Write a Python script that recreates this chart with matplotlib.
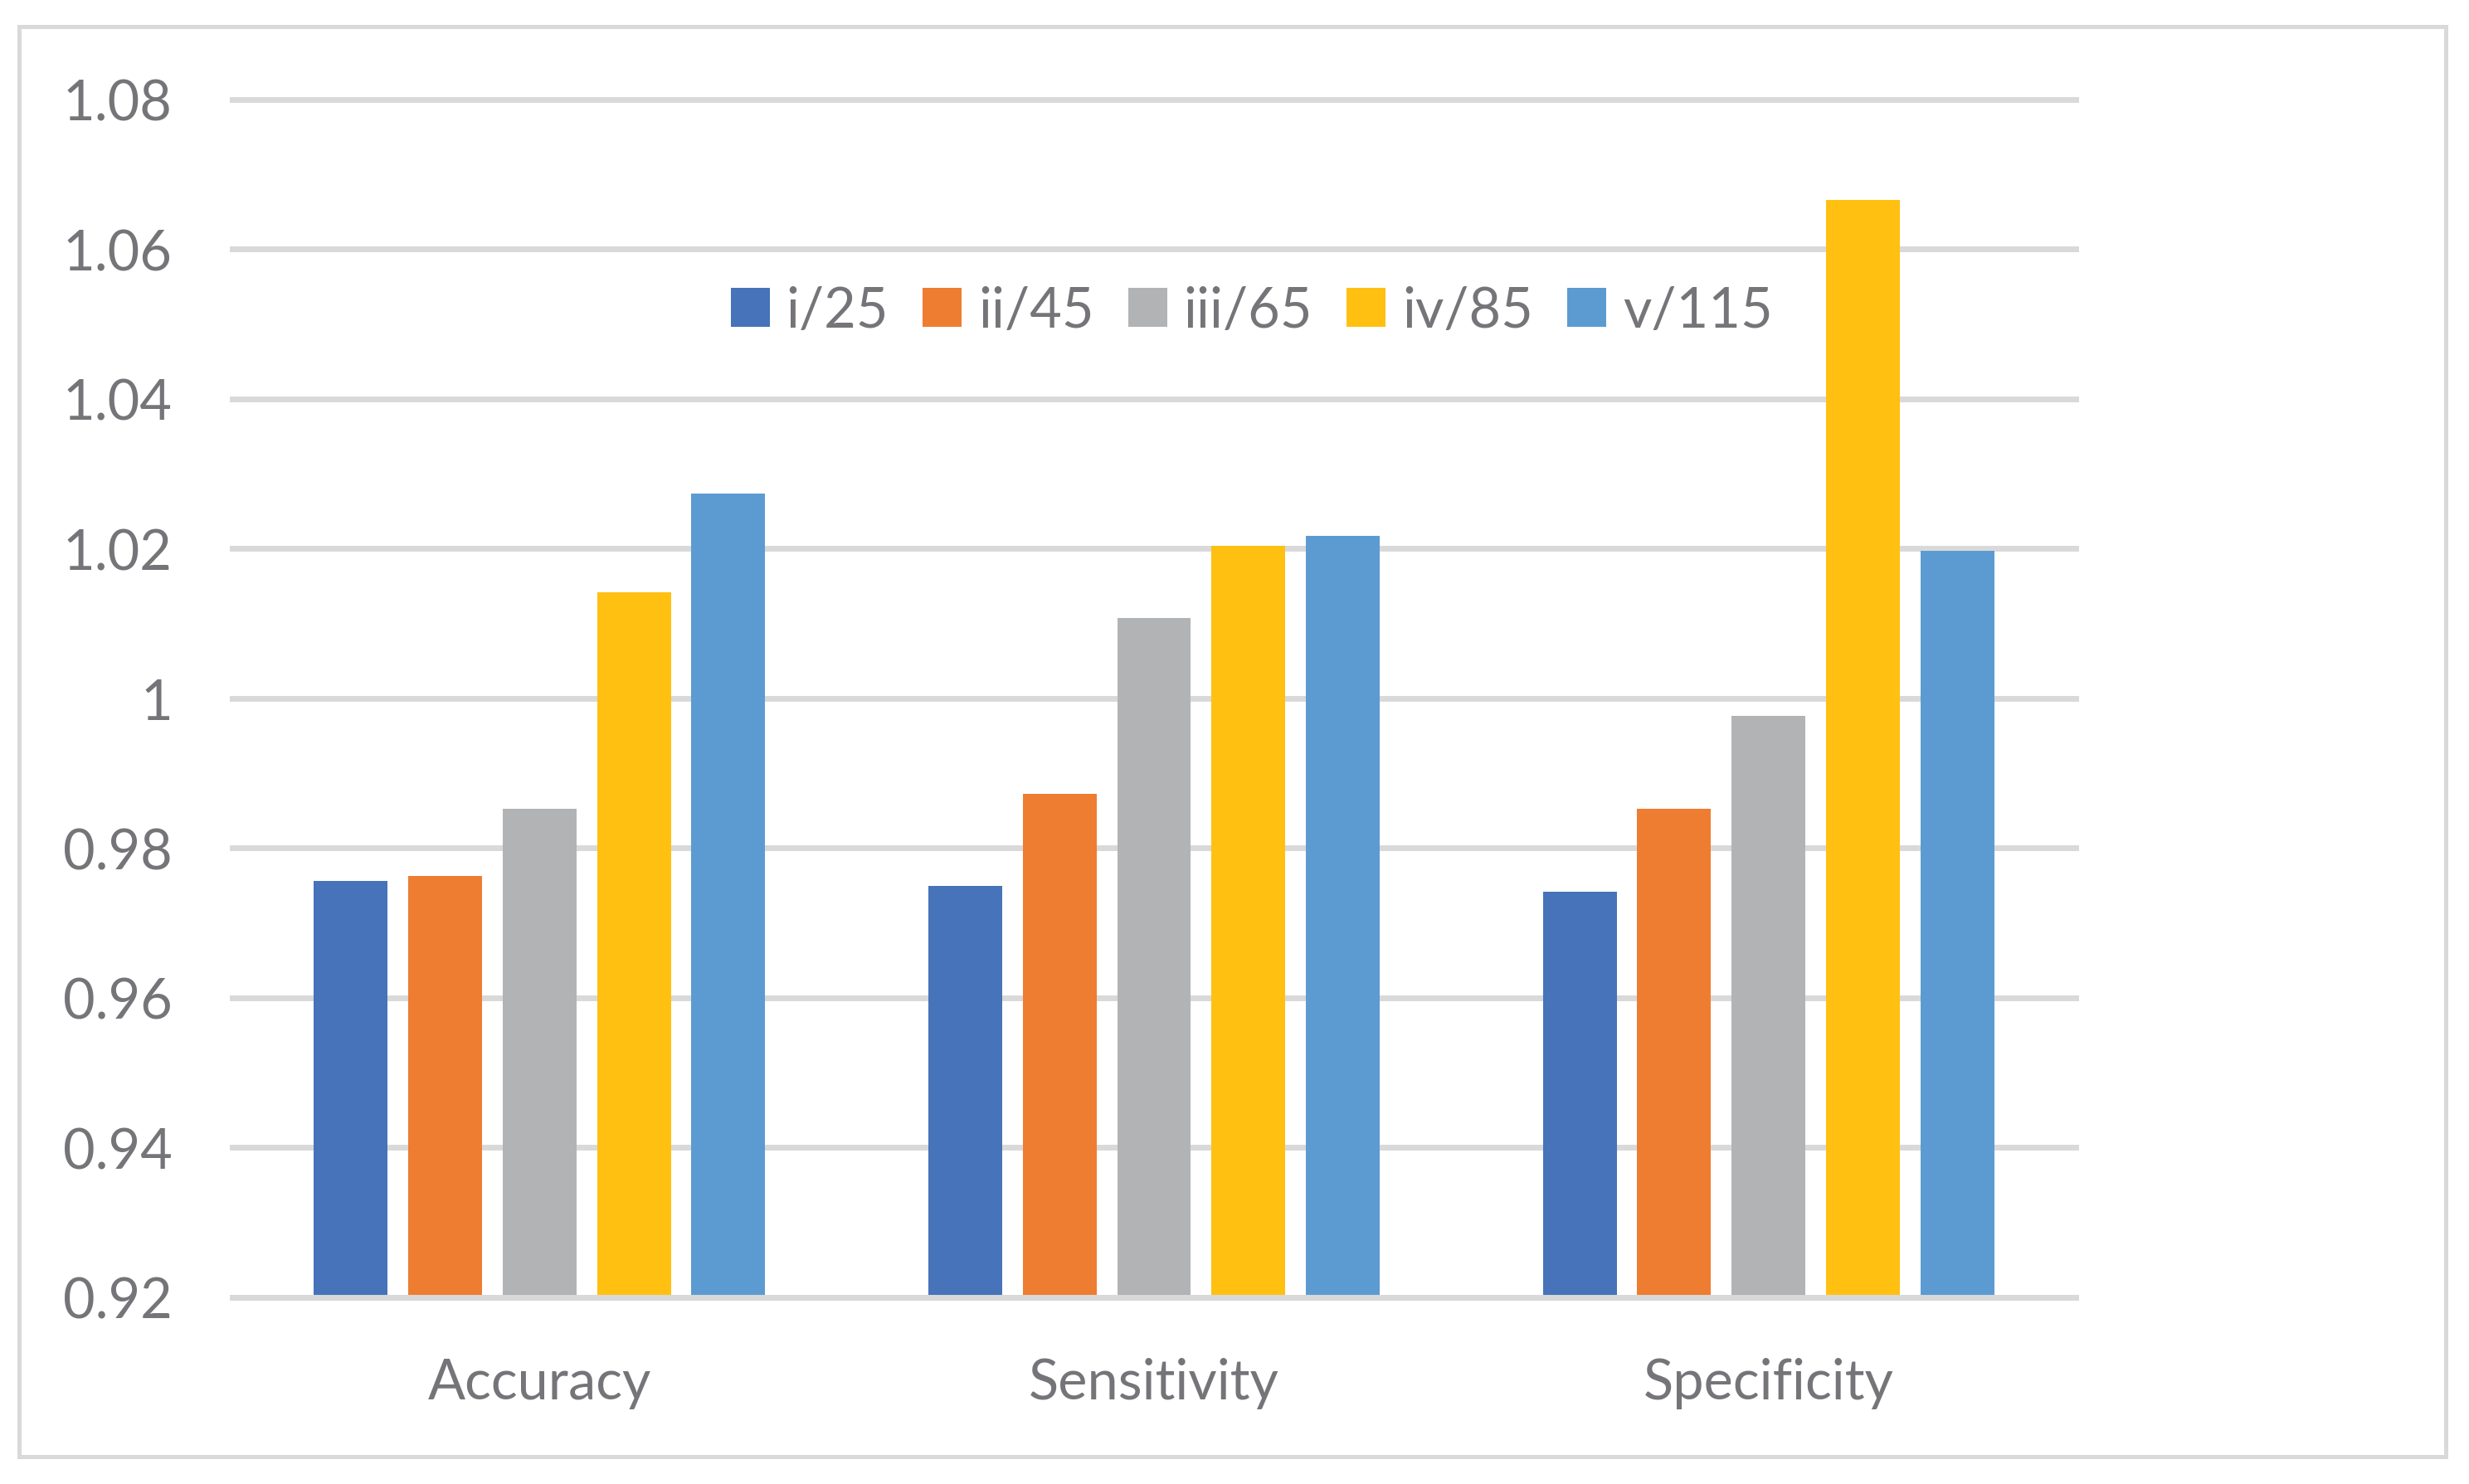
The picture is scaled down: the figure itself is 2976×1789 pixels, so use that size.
import numpy as np
import matplotlib
matplotlib.use("Agg")
import matplotlib.pyplot as plt
from matplotlib.patches import Rectangle

categories = ["Accuracy", "Sensitivity", "Specificity"]
series_names = ["i/25", "ii/45", "iii/65", "iv/85", "v/115"]

i_25 = [0.9756, 0.9749, 0.9742]
ii_45 = [0.9763, 0.9872, 0.9852]
iii_65 = [0.9852, 1.0107, 0.9976]
iv_85 = [1.0142, 1.0204, 1.0666]
v_115 = [1.0273, 1.0217, 1.0197]

y_ticks = [0.92, 0.94, 0.96, 0.98, 1.00, 1.02, 1.04, 1.06, 1.08]
y_tick_labels = ["0.92", "0.94", "0.96", "0.98", "1", "1.02", "1.04", "1.06", "1.08"]

colors = ["#4673B9", "#EE7D31", "#B2B3B5", "#FFC012", "#5C9BD2"]
text_color = "#757579"
grid_color = "#D9D9D9"

plt.rcParams["font.family"] = ["Lato", "DejaVu Sans"]

fig = plt.figure(figsize=(14.88, 8.95), dpi=200)
ax = fig.add_axes([0.0941, 0.1257, 0.7466, 0.8069])

x = np.arange(len(categories))
width = 0.120
step = 0.1536
base = y_ticks[0]

all_series = [i_25, ii_45, iii_65, iv_85, v_115]
for k, (name, vals) in enumerate(zip(series_names, all_series)):
    heights = np.array(vals) - base
    ax.bar(x + (k - 2) * step, heights, width, bottom=base,
           color=colors[k], label=name, zorder=2)

# horizontal gridlines (drawn unclipped so the top one is full width)
for yv in y_ticks:
    ax.axhline(yv, color=grid_color, linewidth=2.5, zorder=1, clip_on=False)
ax.axhline(base, color=grid_color, linewidth=2.5, zorder=3, clip_on=False)

ax.set_xlim(-0.5, 2.5)
ax.set_ylim(0.92, 1.08)
ax.set_yticks(y_ticks)
ax.set_yticklabels(y_tick_labels)
ax.set_xticks(x)
ax.set_xticklabels(categories)
ax.tick_params(axis="both", length=0, labelsize=24, labelcolor=text_color, pad=26)

for s in ax.spines.values():
    s.set_visible(False)

fig.legend(loc="center", bbox_to_anchor=(0.507, 0.790), ncol=5, frameon=False,
           fontsize=24, labelcolor=text_color, handlelength=0.7, handleheight=0.7,
           handletextpad=0.3, columnspacing=0.62)

# outer chart border
fig.patches.append(Rectangle((0.0077, 0.0184), 0.9829, 0.9631, transform=fig.transFigure,
                             fill=False, edgecolor=grid_color, linewidth=1.8))

fig.savefig("out.png", dpi=200, facecolor="white")
